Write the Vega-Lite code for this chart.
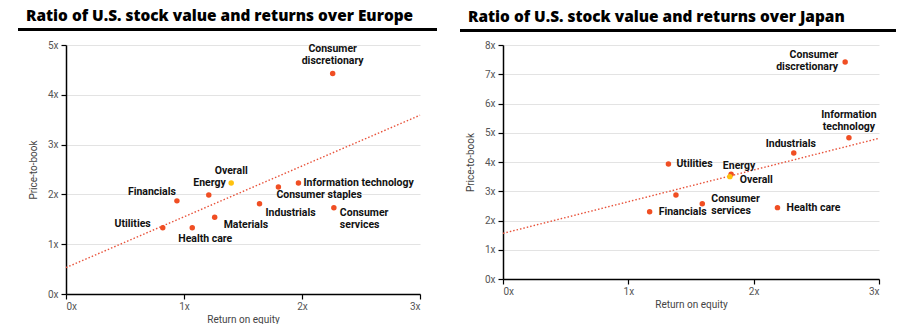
{
  "$schema": "https://vega.github.io/schema/vega-lite/v6.json",
  "padding": {"left": 16, "top": 8, "right": 5, "bottom": 0},
  "spacing": 21,
  "config": {
    "view": {"stroke": null},
    "font": "Roboto",
    "axis": {"labelFont": "Roboto", "labelFontSize": 10, "labelColor": "#555", "titleFont": "Roboto", "titleFontSize": 10, "titleFontWeight": "normal", "titleColor": "#444", "domainColor": "#000", "domainWidth": 1.5, "tickColor": "#000", "tickSize": 5, "tickWidth": 1.2, "gridColor": "#e3e3e3", "gridWidth": 1},
    "title": {"font": "Open Sans", "fontSize": 15.4, "fontWeight": 800, "color": "#000", "anchor": "start", "frame": "group"},
    "text": {"font": "Roboto", "fontSize": 10.5, "fontWeight": "bold", "color": "#111", "baseline": "middle", "lineHeight": 12}
  },
  "datasets": {
    "europe": [
      {"sector": "Consumer discretionary", "kind": "Sector", "roe": 2.26, "pb": 4.43},
      {"sector": "Overall", "kind": "Overall", "roe": 1.40, "pb": 2.23},
      {"sector": "Energy", "kind": "Sector", "roe": 1.21, "pb": 1.99},
      {"sector": "Financials", "kind": "Sector", "roe": 0.94, "pb": 1.87},
      {"sector": "Utilities", "kind": "Sector", "roe": 0.82, "pb": 1.33},
      {"sector": "Health care", "kind": "Sector", "roe": 1.07, "pb": 1.33},
      {"sector": "Materials", "kind": "Sector", "roe": 1.26, "pb": 1.54},
      {"sector": "Industrials", "kind": "Sector", "roe": 1.64, "pb": 1.81},
      {"sector": "Consumer staples", "kind": "Sector", "roe": 1.80, "pb": 2.15},
      {"sector": "Information technology", "kind": "Sector", "roe": 1.97, "pb": 2.23},
      {"sector": "Consumer services", "kind": "Sector", "roe": 2.27, "pb": 1.73}
    ],
    "europeTrend": [
      {"roe": 0, "pb": 0.53},
      {"roe": 3, "pb": 3.59}
    ],
    "japan": [
      {"sector": "Consumer discretionary", "kind": "Sector", "roe": 2.73, "pb": 7.42},
      {"sector": "Information technology", "kind": "Sector", "roe": 2.76, "pb": 4.83},
      {"sector": "Industrials", "kind": "Sector", "roe": 2.32, "pb": 4.31},
      {"sector": "Utilities", "kind": "Sector", "roe": 1.32, "pb": 3.93},
      {"sector": "Energy", "kind": "Sector", "roe": 1.82, "pb": 3.58},
      {"sector": "Overall", "kind": "Overall", "roe": 1.81, "pb": 3.50},
      {"sector": "(unlabeled)", "kind": "Sector", "roe": 1.38, "pb": 2.87},
      {"sector": "Consumer services", "kind": "Sector", "roe": 1.59, "pb": 2.57},
      {"sector": "Financials", "kind": "Sector", "roe": 1.17, "pb": 2.30},
      {"sector": "Health care", "kind": "Sector", "roe": 2.19, "pb": 2.44}
    ],
    "japanTrend": [
      {"roe": 0, "pb": 1.56},
      {"roe": 3, "pb": 4.81}
    ]
  },
  "hconcat": [
    {
      "width": 354,
      "height": 249,
      "title": {"text": "Ratio of U.S. stock value and returns over Europe", "dx": -40},
      "data": {"name": "europe"},
      "encoding": {
        "x": {"field": "roe", "type": "quantitative", "scale": {"domain": [0, 3]}, "axis": {"title": "Return on equity", "values": [0, 1, 2, 3], "labelExpr": "datum.value + 'x'", "grid": false, "labelPadding": 2, "titlePadding": 3}},
        "y": {"field": "pb", "type": "quantitative", "scale": {"domain": [0, 5]}, "axis": {"title": "Price-to-book", "values": [0, 1, 2, 3, 4, 5], "labelExpr": "datum.value + 'x'", "grid": true, "labelPadding": 3, "titlePadding": 9}}
      },
      "layer": [
        {"data": {"name": "europeTrend"}, "mark": {"type": "line", "color": "#e8523a", "strokeDash": [1.5, 2], "strokeWidth": 1.4}, "encoding": {"x": {"field": "roe", "type": "quantitative"}, "y": {"field": "pb", "type": "quantitative"}}},
        {"mark": {"type": "rule", "color": "#000", "strokeWidth": 2.5}, "encoding": {"x": {"datum": -0.406}, "x2": {"datum": 3.141}, "y": {"datum": 5.314}}},
        {"mark": {"type": "circle", "opacity": 1, "size": 30}, "encoding": {"color": {"field": "kind", "type": "nominal", "scale": {"domain": ["Sector", "Overall"], "range": ["#f04e23", "#ffc20e"]}, "legend": null}}},
        {"transform": [{"filter": "datum.sector === 'Consumer discretionary'"}], "mark": {"type": "text", "align": "center", "dy": -24, "lineBreak": " "}, "encoding": {"text": {"field": "sector"}}},
        {"transform": [{"filter": "datum.sector === 'Overall'"}], "mark": {"type": "text", "align": "center", "dy": -12}, "encoding": {"text": {"field": "sector"}}},
        {"transform": [{"filter": "datum.sector === 'Energy'"}], "mark": {"type": "text", "align": "right", "dx": 17, "dy": -12}, "encoding": {"text": {"field": "sector"}}},
        {"transform": [{"filter": "datum.sector === 'Financials'"}], "mark": {"type": "text", "align": "right", "dx": -1, "dy": -9}, "encoding": {"text": {"field": "sector"}}},
        {"transform": [{"filter": "datum.sector === 'Utilities'"}], "mark": {"type": "text", "align": "right", "dx": -12, "dy": -4}, "encoding": {"text": {"field": "sector"}}},
        {"transform": [{"filter": "datum.sector === 'Health care'"}], "mark": {"type": "text", "align": "center", "dx": 13, "dy": 11}, "encoding": {"text": {"field": "sector"}}},
        {"transform": [{"filter": "datum.sector === 'Materials'"}], "mark": {"type": "text", "align": "left", "dx": 9, "dy": 8}, "encoding": {"text": {"field": "sector"}}},
        {"transform": [{"filter": "datum.sector === 'Industrials'"}], "mark": {"type": "text", "align": "left", "dx": 6, "dy": 9}, "encoding": {"text": {"field": "sector"}}},
        {"transform": [{"filter": "datum.sector === 'Consumer staples'"}], "mark": {"type": "text", "align": "left", "dx": -2, "dy": 8}, "encoding": {"text": {"field": "sector"}}},
        {"transform": [{"filter": "datum.sector === 'Information technology'"}], "mark": {"type": "text", "align": "left", "dx": 5, "dy": 0}, "encoding": {"text": {"field": "sector"}}},
        {"transform": [{"filter": "datum.sector === 'Consumer services'"}], "mark": {"type": "text", "align": "left", "dx": 6, "dy": 5, "lineBreak": " "}, "encoding": {"text": {"field": "sector"}}}
      ]
    },
    {
      "width": 376,
      "height": 234,
      "title": {"text": "Ratio of U.S. stock value and returns over Japan", "dx": -35},
      "data": {"name": "japan"},
      "encoding": {
        "x": {"field": "roe", "type": "quantitative", "scale": {"domain": [0, 3]}, "axis": {"title": "Return on equity", "values": [0, 1, 2, 3], "labelExpr": "datum.value + 'x'", "grid": false, "labelPadding": 2, "titlePadding": 3}},
        "y": {"field": "pb", "type": "quantitative", "scale": {"domain": [0, 8]}, "axis": {"title": "Price-to-book", "values": [0, 1, 2, 3, 4, 5, 6, 7, 8], "labelExpr": "datum.value + 'x'", "grid": true, "labelPadding": 3, "titlePadding": 9}}
      },
      "layer": [
        {"data": {"name": "japanTrend"}, "mark": {"type": "line", "color": "#e8523a", "strokeDash": [1.5, 2], "strokeWidth": 1.4}, "encoding": {"x": {"field": "roe", "type": "quantitative"}, "y": {"field": "pb", "type": "quantitative"}}},
        {"mark": {"type": "rule", "color": "#000", "strokeWidth": 2.5}, "encoding": {"x": {"datum": -0.34}, "x2": {"datum": 3.131}, "y": {"datum": 8.5}}},
        {"mark": {"type": "circle", "opacity": 1, "size": 30}, "encoding": {"color": {"field": "kind", "type": "nominal", "scale": {"domain": ["Sector", "Overall"], "range": ["#f04e23", "#ffc20e"]}, "legend": null}}},
        {"transform": [{"filter": "datum.sector === 'Consumer discretionary'"}], "mark": {"type": "text", "align": "right", "dx": -7, "dy": -7, "lineBreak": " "}, "encoding": {"text": {"field": "sector"}}},
        {"transform": [{"filter": "datum.sector === 'Information technology'"}], "mark": {"type": "text", "align": "center", "dy": -23, "lineBreak": " "}, "encoding": {"text": {"field": "sector"}}},
        {"transform": [{"filter": "datum.sector === 'Industrials'"}], "mark": {"type": "text", "align": "center", "dx": -3, "dy": -9}, "encoding": {"text": {"field": "sector"}}},
        {"transform": [{"filter": "datum.sector === 'Utilities'"}], "mark": {"type": "text", "align": "left", "dx": 8, "dy": 0}, "encoding": {"text": {"field": "sector"}}},
        {"transform": [{"filter": "datum.sector === 'Energy'"}], "mark": {"type": "text", "align": "center", "dx": 8, "dy": -8}, "encoding": {"text": {"field": "sector"}}},
        {"transform": [{"filter": "datum.sector === 'Overall'"}], "mark": {"type": "text", "align": "left", "dx": 10, "dy": 3}, "encoding": {"text": {"field": "sector"}}},
        {"transform": [{"filter": "datum.sector === 'Consumer services'"}], "mark": {"type": "text", "align": "left", "dx": 9, "dy": -5, "lineBreak": " "}, "encoding": {"text": {"field": "sector"}}},
        {"transform": [{"filter": "datum.sector === 'Financials'"}], "mark": {"type": "text", "align": "left", "dx": 9, "dy": 0}, "encoding": {"text": {"field": "sector"}}},
        {"transform": [{"filter": "datum.sector === 'Health care'"}], "mark": {"type": "text", "align": "left", "dx": 9, "dy": 0}, "encoding": {"text": {"field": "sector"}}}
      ]
    }
  ]
}
